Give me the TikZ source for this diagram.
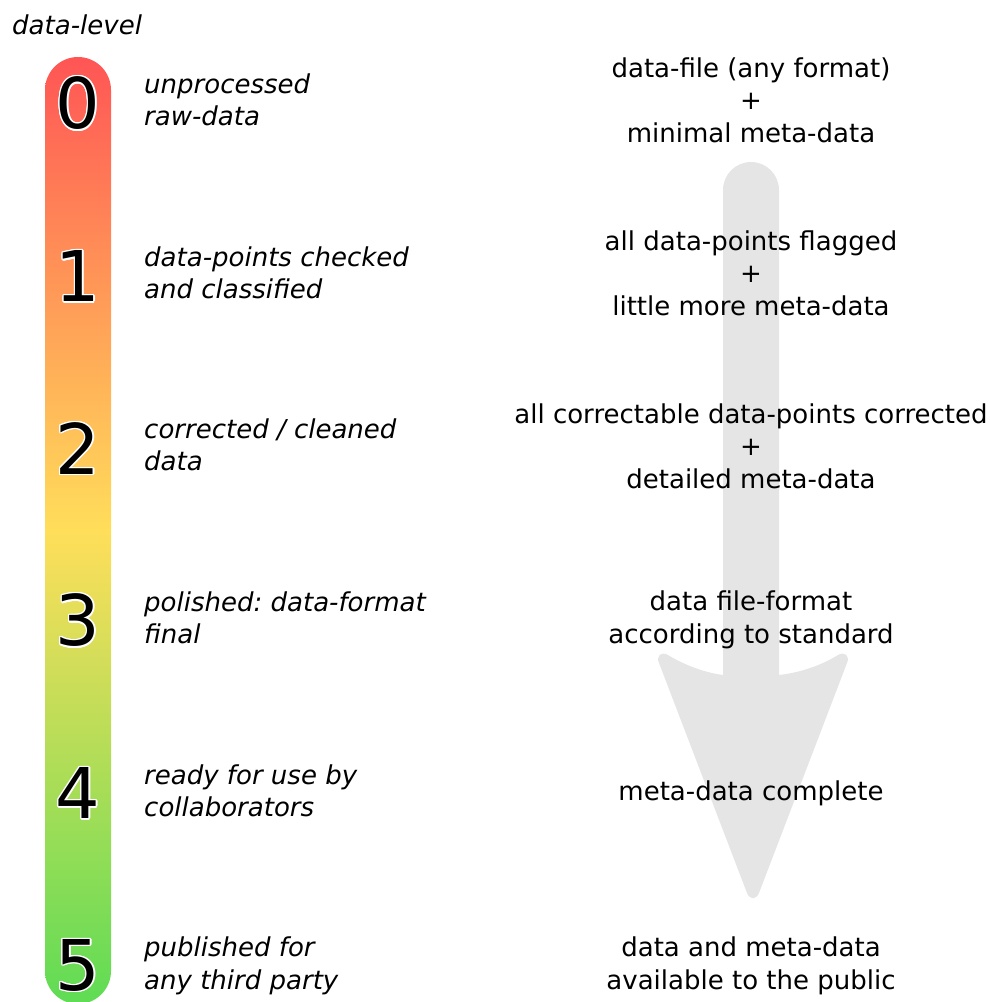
\documentclass[tikz,border=0pt]{standalone}
\usepackage{fontspec}
\setmainfont{DejaVu Sans}
\usepackage{contour}
\contourlength{1.3pt}
\frenchspacing
\definecolor{barred}{RGB}{255,85,85}
\definecolor{baryellow}{RGB}{255,222,90}
\definecolor{bargreen}{RGB}{95,220,85}
\definecolor{arrowgray}{RGB}{229,229,229}
\tikzset{
  digit/.style={inner sep=0pt,font=\fontsize{70}{80}\selectfont},
  levellabel/.style={anchor=west,align=left,inner sep=0pt,font=\fontsize{26}{32.5}\selectfont\itshape},
  content/.style={align=center,inner sep=0pt,font=\fontsize{26}{32.5}\selectfont}
}

\begin{document}
\begin{tikzpicture}[x=1pt,y=-1pt]
\useasboundingbox (0,0) rectangle (990,1002);
% big arrow in the back
\fill[arrowgray] (723,675) -- (723,190) arc (180:360:28) -- (779,675)
  .. controls (805,672) and (825,663) .. (838,655)
  .. controls (845,651) and (850,656) .. (847,663)
  -- (759,893) .. controls (756,900) and (750,900) .. (747,893)
  -- (659,663) .. controls (656,656) and (661,651) .. (668,655)
  .. controls (681,663) and (701,672) .. (723,675) -- cycle;
% level bar
\shade[top color=barred,bottom color=bargreen,middle color=baryellow,rounded corners=33pt] (45,57) rectangle (111,1004);
\node[anchor=west,inner sep=0pt,font=\fontsize{26}{32.5}\selectfont\itshape] (title) at (12,25) {data-level};
\node[digit] (d0) at (78,104) {\contour{white}{0}};
\node[digit] (d1) at (78,277) {\contour{white}{1}};
\node[digit] (d2) at (78,449) {\contour{white}{2}};
\node[digit] (d3) at (78,621) {\contour{white}{3}};
\node[digit] (d4) at (78,794) {\contour{white}{4}};
\node[digit] (d5) at (78,966) {\contour{white}{5}};
% meaning of each level
\node[levellabel] (l0) at (144,100) {unprocessed\\raw-data};
\node[levellabel] (l1) at (144,273) {data-points checked\\and classified};
\node[levellabel] (l2) at (144,445) {corrected / cleaned\\data};
\node[levellabel] (l3) at (144,618) {polished: data-format\\final};
\node[levellabel] (l4) at (144,791) {ready for use by\\collaborators};
\node[levellabel] (l5) at (144,966) {published for\\any third party};
% what the data contains
\node[content] (c0) at (751,100) {data-file (any format)\\+\\minimal meta-data};
\node[content] (c1) at (751,273) {all data-points flagged\\+\\little more meta-data};
\node[content] (c2) at (751,446) {all correctable data-points corrected\\+\\detailed meta-data};
\node[content] (c3) at (751,620) {data file-format\\according to standard};
\node[content] (c4) at (751,793) {meta-data complete};
\node[content] (c5) at (751,966) {data and meta-data\\available to the public};
\end{tikzpicture}
\end{document}
